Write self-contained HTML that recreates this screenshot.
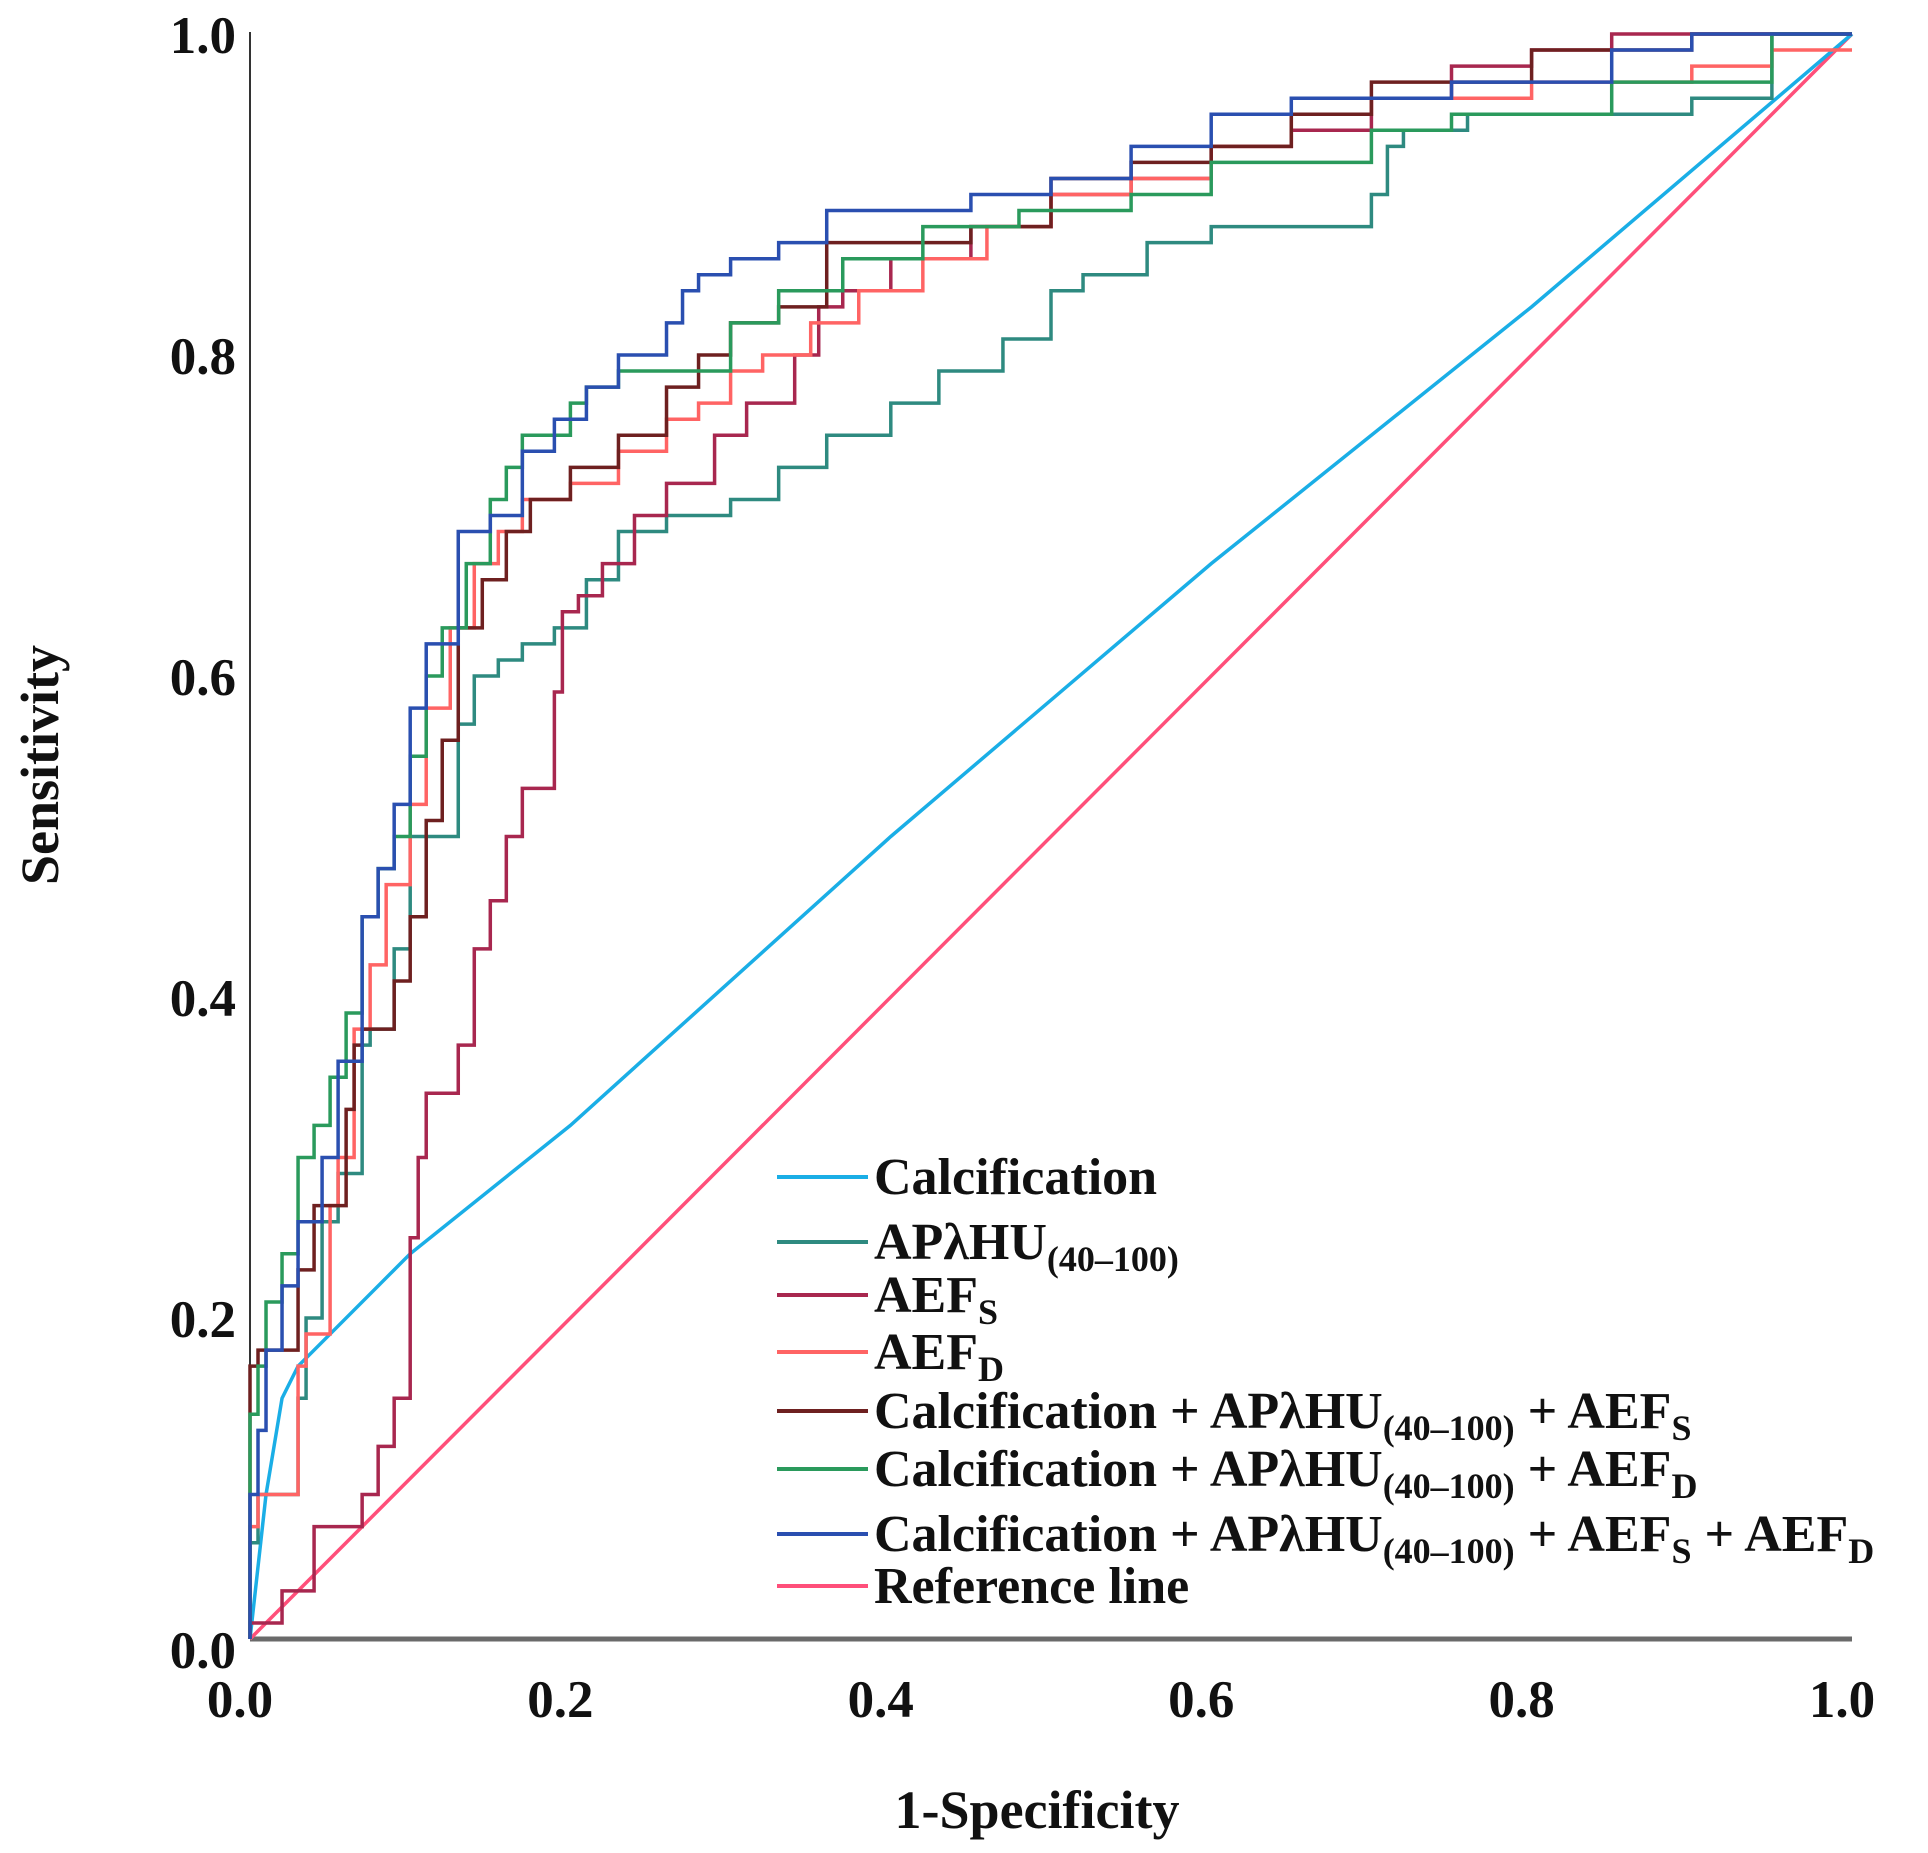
<!DOCTYPE html>
<html><head><meta charset="utf-8">
<style>
html,body{margin:0;padding:0;background:#fff;}
svg{display:block;font-family:"Liberation Serif",serif;font-weight:bold;}
</style></head>
<body>
<svg id="chart" width="1928" height="1853" viewBox="0 0 1928 1853" xmlns="http://www.w3.org/2000/svg">
<g id="axes"></g>
<g id="curves"></g>
<g id="legend"></g>
</svg>
<script>
const xTicks = [0, 0.2, 0.4, 0.6, 0.8, 1.0];
const yTicks = [0, 0.2, 0.4, 0.6, 0.8, 1.0];
const tickLabels = ["0.0","0.2","0.4","0.6","0.8","1.0"];
const calcFpr = [0,0.01,0.02,0.03,0.05,0.1,0.2,0.4,0.6,0.8,1];
const calcTpr = [0,0.09,0.15,0.17,0.19,0.24,0.32,0.5,0.67,0.83,1];
const apFpr = [0,0.005,0.01,0.03,0.035,0.045,0.055,0.07,0.075,0.09,0.1,0.11,0.13,0.14,0.155,0.17,0.19,0.21,0.23,0.26,0.3,0.33,0.36,0.4,0.43,0.47,0.5,0.52,0.56,0.6,0.65,0.7,0.71,0.72,0.76,0.8,0.9,0.95,1];
const apTpr = [0,0.06,0.09,0.09,0.15,0.2,0.26,0.29,0.37,0.38,0.43,0.5,0.5,0.57,0.6,0.61,0.62,0.63,0.66,0.69,0.7,0.71,0.73,0.75,0.77,0.79,0.81,0.84,0.85,0.87,0.88,0.88,0.9,0.93,0.94,0.95,0.95,0.96,1];
const aefsFpr = [0,0.02,0.04,0.05,0.07,0.08,0.09,0.1,0.105,0.11,0.13,0.14,0.15,0.16,0.17,0.19,0.195,0.205,0.22,0.24,0.26,0.29,0.31,0.34,0.355,0.37,0.4,0.45,0.5,0.55,0.6,0.65,0.7,0.75,0.8,0.85,0.9,1];
const aefsTpr = [0,0.01,0.03,0.07,0.07,0.09,0.12,0.15,0.25,0.3,0.34,0.37,0.43,0.46,0.5,0.53,0.59,0.64,0.65,0.67,0.7,0.72,0.75,0.77,0.8,0.83,0.84,0.86,0.88,0.9,0.91,0.93,0.94,0.96,0.98,0.99,1,1];
const aefdFpr = [0,0.005,0.01,0.03,0.035,0.05,0.055,0.065,0.075,0.085,0.1,0.11,0.125,0.14,0.155,0.17,0.2,0.23,0.26,0.28,0.3,0.32,0.35,0.38,0.42,0.46,0.5,0.55,0.6,0.65,0.7,0.8,0.9,0.95,1];
const aefdTpr = [0,0.07,0.09,0.09,0.17,0.19,0.27,0.3,0.38,0.42,0.47,0.52,0.58,0.63,0.67,0.69,0.71,0.72,0.74,0.76,0.77,0.79,0.8,0.82,0.84,0.86,0.88,0.9,0.91,0.93,0.95,0.96,0.97,0.98,0.99];
const comboSFpr = [0,0.005,0.03,0.04,0.06,0.065,0.07,0.09,0.1,0.11,0.12,0.13,0.145,0.16,0.175,0.2,0.23,0.26,0.28,0.3,0.33,0.36,0.4,0.45,0.5,0.55,0.6,0.65,0.7,0.8,0.9,0.95,1];
const comboSTpr = [0,0.17,0.18,0.23,0.27,0.33,0.37,0.38,0.41,0.45,0.51,0.56,0.63,0.66,0.69,0.71,0.73,0.75,0.78,0.8,0.82,0.83,0.87,0.87,0.88,0.91,0.92,0.93,0.95,0.97,0.99,1,1];
const comboDFpr = [0,0.005,0.01,0.02,0.03,0.04,0.05,0.06,0.07,0.08,0.09,0.1,0.11,0.12,0.135,0.15,0.16,0.17,0.2,0.21,0.23,0.3,0.33,0.37,0.42,0.48,0.55,0.6,0.65,0.7,0.75,0.85,0.95,1];
const comboDTpr = [0,0.14,0.17,0.21,0.24,0.3,0.32,0.35,0.39,0.45,0.48,0.5,0.55,0.6,0.63,0.67,0.71,0.73,0.75,0.77,0.78,0.79,0.82,0.84,0.86,0.88,0.89,0.9,0.92,0.92,0.94,0.95,0.97,1];
const comboAllFpr = [0,0.005,0.01,0.02,0.03,0.045,0.055,0.07,0.08,0.09,0.1,0.11,0.13,0.15,0.17,0.19,0.21,0.23,0.26,0.27,0.28,0.3,0.33,0.36,0.4,0.45,0.5,0.55,0.6,0.65,0.75,0.85,0.9,1];
const comboAllTpr = [0,0.09,0.13,0.18,0.22,0.26,0.3,0.36,0.45,0.48,0.52,0.58,0.62,0.69,0.7,0.74,0.76,0.78,0.8,0.82,0.84,0.85,0.86,0.87,0.89,0.89,0.9,0.91,0.93,0.95,0.96,0.97,0.99,1];
const refFpr = [0,1];
const refTpr = [0,1];

const NS = "http://www.w3.org/2000/svg";
const X0 = 250, X1 = 1852, Y0 = 1639, Y1 = 34;
function sx(v){ return X0 + v*(X1-X0); }
function sy(v){ return Y0 - v*(Y0-Y1); }
function mk(tag, attrs, parent){
  const e = document.createElementNS(NS, tag);
  for (const k in attrs) e.setAttribute(k, attrs[k]);
  parent.appendChild(e); return e;
}
const axes = document.getElementById('axes');
let yl = mk('line',{x1:X0,y1:Y1-2,x2:X0,y2:Y0,stroke:'#333','stroke-width':2},axes);


let xl = mk('line',{x1:X0,y1:Y0,x2:X1,y2:Y0,stroke:'#6a6a6a','stroke-width':5},axes);


xTicks.forEach((v,i)=>{
  const t = mk('text',{x:sx(v)-10,y:1717,'font-size':53,'text-anchor':'middle',fill:'#111'},axes);
  t.textContent = tickLabels[i];
  
  
});
yTicks.forEach((v,i)=>{
  const t = mk('text',{x:236,y:sy(v)+19+(v===0?10:0),'font-size':53,'text-anchor':'end',fill:'#111'},axes);
  t.textContent = tickLabels[i];
  
  
});
let xt = mk('text',{x:1037,y:1828,'font-size':54,'text-anchor':'middle',fill:'#111'},axes);
xt.textContent='1-Specificity';


let ytt = mk('text',{x:0,y:0,'font-size':54,'text-anchor':'middle',fill:'#111',transform:'translate(58,765) rotate(-90)'},axes);
ytt.textContent='Sensitivity';



const curves = document.getElementById('curves');
function stepPath(f,t){
  let d = 'M'+sx(f[0])+','+sy(t[0]);
  for(let i=1;i<f.length;i++){
    d += ' L'+sx(f[i-1])+','+sy(t[i])+' L'+sx(f[i])+','+sy(t[i]);
  }
  return d;
}
function linePath(f,t){
  let d='';
  for(let i=0;i<f.length;i++) d += (i?' L':'M')+sx(f[i])+','+sy(t[i]);
  return d;
}
const series = [
  {name:'reference-line', f:refFpr, t:refTpr, c:'#ff4f7a', step:false},
  {name:'calcification-curve', f:calcFpr, t:calcTpr, c:'#1aaee6', step:false},
  {name:'aphu-curve', f:apFpr, t:apTpr, c:'#2e8a80', step:true},
  {name:'aefs-curve', f:aefsFpr, t:aefsTpr, c:'#a8274f', step:true},
  {name:'aefd-curve', f:aefdFpr, t:aefdTpr, c:'#ff6464', step:true},
  {name:'combo-s-curve', f:comboSFpr, t:comboSTpr, c:'#6e2020', step:true},
  {name:'combo-d-curve', f:comboDFpr, t:comboDTpr, c:'#2a9a5c', step:true},
  {name:'combo-all-curve', f:comboAllFpr, t:comboAllTpr, c:'#2a4fb0', step:true}
];
series.forEach(s=>{
  const p = mk('path',{d:s.step?stepPath(s.f,s.t):linePath(s.f,s.t),fill:'none',stroke:s.c,'stroke-width':3.5,'stroke-linejoin':'miter'},curves);
  
  
});
</script>
<script>
(function(){
const NS="http://www.w3.org/2000/svg";
const lg=document.getElementById('legend');
const SUB='<tspan font-size="36" dy="12">';
const rows=[
 {c:'#1aaee6',y:1177,html:'Calcification'},
 {c:'#2e8a80',y:1242,html:'AP<tspan>λ</tspan>HU'+SUB+'(40–100)</tspan>'},
 {c:'#a8274f',y:1295,html:'AEF'+SUB+'S</tspan>'},
 {c:'#ff6464',y:1352,html:'AEF'+SUB+'D</tspan>'},
 {c:'#6e2020',y:1411,html:'Calcification + AP<tspan>λ</tspan>HU'+SUB+'(40–100)</tspan><tspan dy="-12"> + AEF</tspan>'+SUB+'S</tspan>'},
 {c:'#2a9a5c',y:1469,html:'Calcification + AP<tspan>λ</tspan>HU'+SUB+'(40–100)</tspan><tspan dy="-12"> + AEF</tspan>'+SUB+'D</tspan>'},
 {c:'#2a4fb0',y:1534,html:'Calcification + AP<tspan>λ</tspan>HU'+SUB+'(40–100)</tspan><tspan dy="-12"> + AEF</tspan>'+SUB+'S</tspan><tspan dy="-12"> + AEF</tspan>'+SUB+'D</tspan>'},
 {c:'#ff4f7a',y:1586,html:'Reference line'}
];
rows.forEach(r=>{
  const g=document.createElementNS(NS,'g');
  
  
  lg.appendChild(g);
  const l=document.createElementNS(NS,'line');
  l.setAttribute('x1',777);l.setAttribute('x2',868);l.setAttribute('y1',r.y);l.setAttribute('y2',r.y);
  l.setAttribute('stroke',r.c);l.setAttribute('stroke-width',4);
  
  
  g.appendChild(l);
  const t=document.createElementNS(NS,'text');
  t.setAttribute('x',874);t.setAttribute('y',r.y+17);t.setAttribute('font-size',52);t.setAttribute('fill','#111');
  
  
  t.innerHTML=r.html;
  g.appendChild(t);
});
})();
</script>
</body></html>
